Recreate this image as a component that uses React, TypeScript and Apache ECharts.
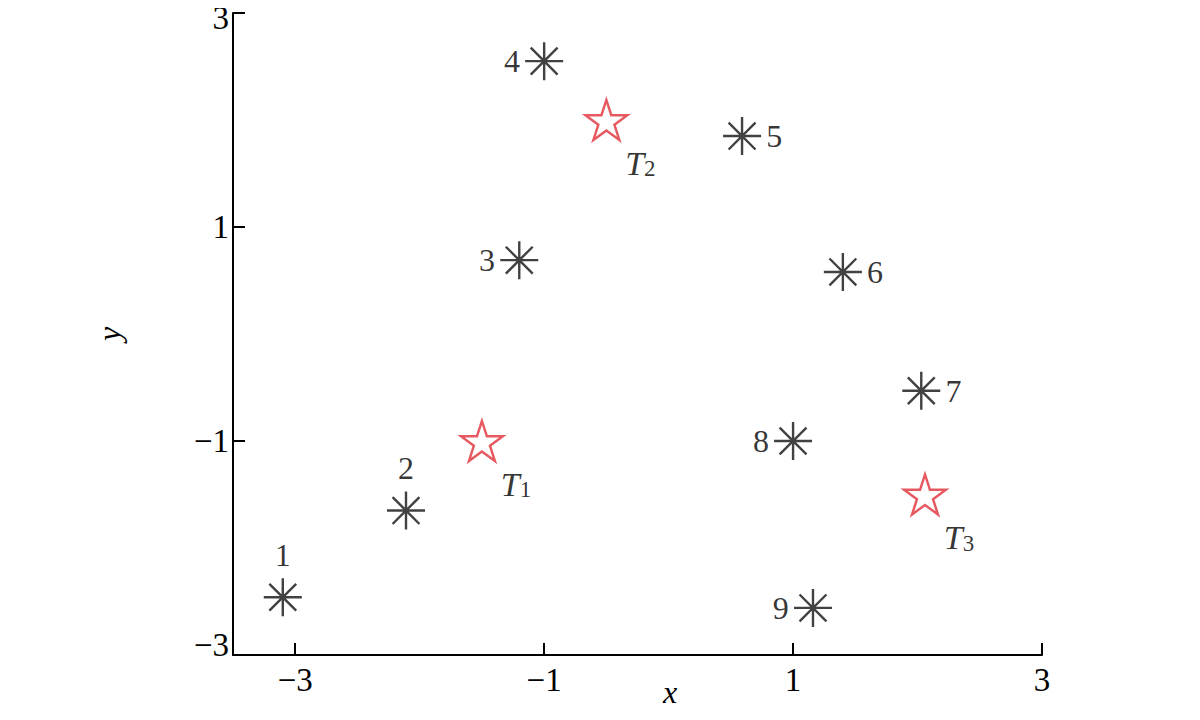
import React, { useEffect, useRef } from "react";
import * as echarts from "echarts";

// ---- data ----
const pointNames = ["1", "2", "3", "4", "5", "6", "7", "8", "9"];
const pointX = [-3.1, -2.11, -1.2, -1.0, 0.59, 1.4, 2.03, 1.0, 1.16];
const pointY = [-2.46, -1.65, 0.69, 2.55, 1.85, 0.58, -0.53, -1.0, -2.56];

const targetNames = ["1", "2", "3"];
const targetX = [-1.5, -0.5, 2.06];
const targetY = [-1.0, 2.0, -1.5];

const xTicks = [-3, -1, 1, 3];
const yTicks = [-3, -1, 1, 3];

// label placement (style)
const pointLabelSide = ["top", "top", "left", "left", "right", "right", "right", "left", "left"];

const FONT = "'Liberation Serif', 'Times New Roman', serif";
const INK = "#000000";

const asteriskPath =
  "path://M10 0 L10 20 M0 10 L20 10 M2.93 2.93 L17.07 17.07 M2.93 17.07 L17.07 2.93";

function starPath(): string {
  const pts: string[] = [];
  for (let k = 0; k < 10; k++) {
    const r = k % 2 === 0 ? 10 : 3.82;
    const a = ((-90 + k * 36) * Math.PI) / 180;
    pts.push(`${(10 + r * Math.cos(a)).toFixed(3)} ${(10 + r * Math.sin(a)).toFixed(3)}`);
  }
  return "path://M" + pts.join(" L") + " Z";
}

const minus = (v: number) => String(v).replace("-", "\u2212");

export default function App() {
  const ref = useRef<HTMLDivElement>(null);
  useEffect(() => {
    if (!ref.current) return;
    const chart = echarts.init(ref.current, null, { renderer: "svg" });

    const pointData = pointNames.map((n, i) => ({
      value: [pointX[i], pointY[i]],
      name: n,
      label: {
        position: pointLabelSide[i],
        distance: pointLabelSide[i] === "top" ? 6 : 4,
      },
    }));
    const targetData = targetNames.map((n, i) => ({
      value: [targetX[i], targetY[i]],
      name: n,
    }));

    const yMin = yTicks[0];
    const yMax = yTicks[yTicks.length - 1];

    chart.setOption({
      animation: false,
      backgroundColor: "#ffffff",
      grid: { left: 233, right: 158, top: 13, bottom: 65, containLabel: false },
      xAxis: {
        type: "value",
        min: -3.5,
        max: 3,
        splitLine: { show: false },
        axisLine: { onZero: false, lineStyle: { color: INK, width: 2 } },
        axisTick: { inside: true, length: 12, lineStyle: { color: INK, width: 2 }, customValues: xTicks },
        axisLabel: {
          customValues: xTicks,
          formatter: (v: number) => minus(v),
          fontFamily: FONT,
          fontSize: 33,
          color: INK,
          margin: 8,
        },
      },
      yAxis: {
        type: "value",
        min: yMin,
        max: yMax,
        interval: 2,
        splitLine: { show: false },
        axisLine: { onZero: false, lineStyle: { color: INK, width: 2 } },
        axisTick: { inside: true, length: 12, lineStyle: { color: INK, width: 2 } },
        axisLabel: {
          formatter: (v: number) =>
            v === yMax ? `{top|${minus(v)}}` : v === yMin ? `{bot|${minus(v)}}` : minus(v),
          fontFamily: FONT,
          fontSize: 33,
          color: INK,
          margin: 4,
          rich: {
            top: { fontFamily: FONT, fontSize: 33, color: INK, padding: [10, 0, 0, 0] },
            bot: { fontFamily: FONT, fontSize: 33, color: INK, padding: [0, 0, 20, 0] },
          },
        },
        name: "y",
        nameLocation: "middle",
        nameGap: 108,
        nameRotate: 90,
        nameTextStyle: { fontFamily: FONT, fontStyle: "italic", fontSize: 32, color: INK },
      },
      graphic: [
        {
          type: "text",
          left: 663,
          top: 676,
          style: { text: "x", font: `italic 32px ${FONT}`, fill: INK },
        },
      ],
      series: [
        {
          type: "scatter",
          symbol: asteriskPath,
          symbolSize: 38,
          itemStyle: { color: "transparent", borderColor: "#111111", borderWidth: 2.4 },
          label: {
            show: true,
            formatter: "{b}",
            fontFamily: FONT,
            fontSize: 32,
            color: INK,
          },
          data: pointData,
          z: 3,
        },
        {
          type: "scatter",
          symbol: starPath(),
          symbolSize: [42, 40],
          itemStyle: { color: "#ffffff", borderColor: "#e0303a", borderWidth: 2.4 },
          label: {
            show: true,
            position: "inside",
            offset: [34, 42],
            formatter: (p: any) => `{t|T}{s|${p.name}}`,
            rich: {
              t: { fontFamily: FONT, fontStyle: "italic", fontSize: 34, color: INK, lineHeight: 36, verticalAlign: "bottom" },
              s: { fontFamily: FONT, fontSize: 23, color: INK, lineHeight: 36, verticalAlign: "bottom", padding: [12, 0, 0, 0] },
            },
          },
          data: targetData,
          z: 4,
        },
      ],
    });
    return () => chart.dispose();
  }, []);
  return <div ref={ref} style={{ width: 1200, height: 720, margin: -8 }} />;
}
